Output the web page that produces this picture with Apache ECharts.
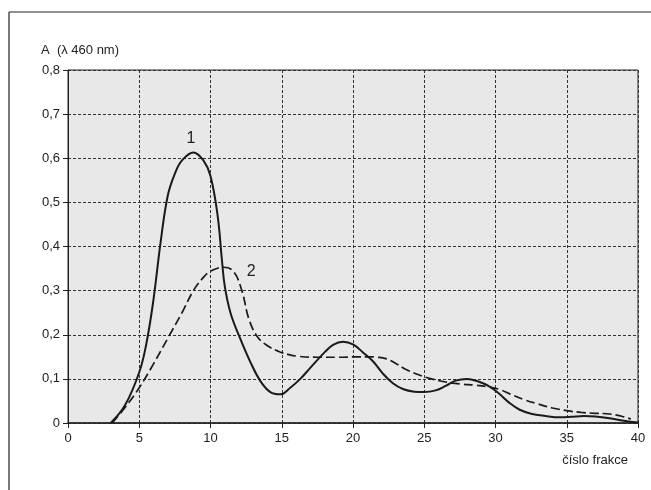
<!DOCTYPE html>
<html>
<head>
<meta charset="utf-8">
<script src="https://cdn.jsdelivr.net/npm/echarts@6/dist/echarts.min.js"></script>
<style>
  html, body { margin: 0; padding: 0; background: #fff; }
  #chart { width: 651px; height: 490px; }
</style>
</head>
<body>
<div id="chart"></div>
<script>
// curve 1 (solid) - [fraction, absorbance]
const curve1 = [
  [3, 0], [4, 0.04], [5, 0.115], [5.5, 0.18], [6, 0.28], [6.5, 0.41], [7, 0.515],
  [7.5, 0.565], [8, 0.595], [8.8, 0.613], [9.5, 0.595], [10, 0.56], [10.5, 0.47],
  [10.8, 0.37], [11, 0.31], [11.4, 0.25], [12, 0.198], [12.8, 0.138], [13.5, 0.095],
  [14.2, 0.07], [14.9, 0.065], [15.6, 0.08], [16.3, 0.1], [17, 0.125], [18, 0.16],
  [18.6, 0.177], [19.3, 0.184], [20, 0.178], [20.7, 0.16], [21.4, 0.14], [22.1, 0.112],
  [22.8, 0.09], [23.5, 0.077], [24.3, 0.071], [25, 0.07], [25.8, 0.074], [26.5, 0.084],
  [27.2, 0.096], [28, 0.1], [28.8, 0.094], [29.5, 0.084], [30.2, 0.068], [31, 0.045],
  [31.7, 0.03], [32.5, 0.021], [33.5, 0.016], [34.5, 0.013], [35.3, 0.014], [36.2, 0.016],
  [37, 0.015], [38, 0.011], [39, 0.005], [40, 0.001]
]
// curve 2 (dashed)
const curve2 = [
  [3.1, 0], [4, 0.035], [5, 0.08], [6, 0.134], [7, 0.192], [8, 0.25], [8.8, 0.3],
  [9.5, 0.33], [10, 0.344], [10.9, 0.353], [11.6, 0.344], [12.2, 0.3], [12.7, 0.235],
  [13.3, 0.195], [14, 0.175], [14.8, 0.162], [15.5, 0.155], [16.2, 0.151], [17.5, 0.149],
  [19, 0.149], [20.2, 0.15], [21, 0.15], [21.7, 0.149], [22.3, 0.146], [23, 0.135],
  [23.8, 0.12], [24.8, 0.107], [25.5, 0.1], [26.5, 0.093], [27.7, 0.088], [28.5, 0.086],
  [29.5, 0.082], [30.3, 0.076], [31, 0.066], [32, 0.053], [33, 0.043], [34, 0.034],
  [35, 0.028], [36, 0.024], [37, 0.022], [37.8, 0.021], [38.5, 0.018], [39, 0.014],
  [39.5, 0.009]
]
// curve labels
const curveLabels = [
  { name: '1', coord: [8.63, 0.645] },
  { name: '2', coord: [12.85, 0.343] }
]

const font = "'Liberation Sans', Arial, sans-serif"
const comma = v => String(Math.round(v * 10) / 10).replace('.', ',')

const labelMark = item => ({
  symbol: 'circle',
  symbolSize: 1,
  itemStyle: { color: 'rgba(0,0,0,0)' },
  label: { show: true, position: 'inside', formatter: '{b}', fontFamily: font, fontSize: 16, color: '#222' },
  data: [item]
})

const chart = echarts.init(document.getElementById('chart'))
chart.setOption({
  animation: false,
  title: [
    {
      text: 'A  (λ 460 nm)',
      left: 36,
      top: 39,
      textStyle: { fontFamily: font, fontSize: 13, fontWeight: 'normal', color: '#222' }
    },
    {
      text: 'číslo frakce',
      right: 18,
      top: 449,
      textStyle: { fontFamily: font, fontSize: 13, fontWeight: 'normal', color: '#222' }
    }
  ],
  grid: {
    left: 68,
    right: 13,
    top: 70,
    bottom: 67,
    show: true,
    backgroundColor: '#e8e8e8',
    borderColor: '#222',
    borderWidth: 1
  },
  xAxis: {
    type: 'value',
    min: 0,
    max: 40,
    interval: 5,
    axisLine: { lineStyle: { color: '#222', width: 1.5 } },
    axisTick: { show: true, length: 5, lineStyle: { color: '#222' } },
    axisLabel: { fontFamily: font, fontSize: 13, color: '#222', margin: 9 },
    splitLine: { show: true, lineStyle: { color: '#333', type: [3, 2], width: 1 } }
  },
  yAxis: {
    type: 'value',
    min: 0,
    max: 0.8,
    interval: 0.1,
    axisLine: { show: true, lineStyle: { color: '#222', width: 1 } },
    axisTick: { show: true, length: 5, lineStyle: { color: '#222' } },
    axisLabel: { fontFamily: font, fontSize: 13, color: '#222', margin: 8, formatter: comma },
    splitLine: { show: true, lineStyle: { color: '#333', type: [3, 2], width: 1 } }
  },
  graphic: [
    { type: 'line', shape: { x1: 9, y1: 12, x2: 651, y2: 12 }, style: { stroke: '#222', lineWidth: 1.2 } },
    { type: 'line', shape: { x1: 9, y1: 12, x2: 9, y2: 490 }, style: { stroke: '#222', lineWidth: 1.2 } }
  ],
  series: [
    {
      type: 'line',
      data: curve1,
      smooth: 0.4,
      showSymbol: false,
      lineStyle: { color: '#1a1a1a', width: 2 },
      markPoint: labelMark(curveLabels[0])
    },
    {
      type: 'line',
      data: curve2,
      smooth: 0.4,
      showSymbol: false,
      lineStyle: { color: '#1a1a1a', width: 1.7, type: [9, 4] },
      markPoint: labelMark(curveLabels[1])
    }
  ]
})
</script>
</body>
</html>
